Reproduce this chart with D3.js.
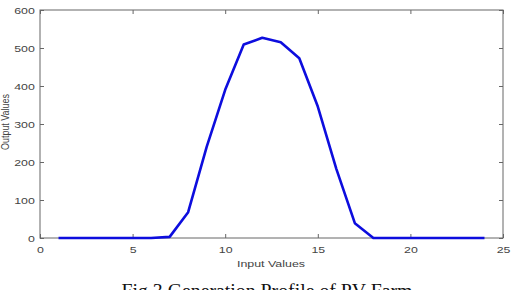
<!DOCTYPE html>
<html>
<head>
<meta charset="utf-8">
<script src="https://cdn.jsdelivr.net/npm/d3@7"></script>
<style>
  body { margin: 0; background: #fff; }
  svg { display: block; }
  .tick text { font-family: "Liberation Sans", Arial, sans-serif; font-size: 9.5px; fill: #444; }
</style>
</head>
<body>
<svg width="516" height="290"></svg>
<script>
// hours and PV output
var hours = [1, 2, 3, 4, 5, 6, 7, 8, 9, 10, 11, 12, 13, 14, 15, 16, 17, 18, 19, 20, 21, 22, 23, 24];
var output = [0, 0, 0, 0, 0, 0, 3, 68, 240, 390, 509, 527, 515, 473, 346, 182, 39, 0, 0, 0, 0, 0, 0, 0];
var xTicks = [0, 5, 10, 15, 20, 25];
var yTicks = [0, 100, 200, 300, 400, 500, 600];

var svg = d3.select("svg");
// note: "top" is taken by window.top, so plot edges get their own names
var plotL = 40, plotR = 503, plotT = 10, plotB = 238;

var x = d3.scaleLinear().domain([0, 25]).range([plotL, plotR]);
var y = d3.scaleLinear().domain([0, 600]).range([plotB, plotT]);

var grey = "#666";
var stretch = 1.3; // the source image is squashed vertically, text looks wide

// inward ticks on all four sides, matlab style
svg.append("g")
    .attr("transform", "translate(0," + plotB + ")")
    .call(d3.axisBottom(x).tickValues(xTicks).tickSize(-4).tickPadding(8))
    .call(function(g) { g.select(".domain").remove(); })
    .selectAll(".tick text").attr("transform", "scale(" + stretch + ",1)");
svg.append("g")
    .attr("transform", "translate(0," + plotT + ")")
    .call(d3.axisTop(x).tickValues(xTicks).tickSize(-4).tickFormat(""))
    .call(function(g) { g.select(".domain").remove(); });
svg.append("g")
    .attr("transform", "translate(" + plotL + ",0)")
    .call(d3.axisLeft(y).tickValues(yTicks).tickSize(-4).tickPadding(4))
    .call(function(g) { g.select(".domain").remove(); })
    .selectAll(".tick text").attr("transform", "scale(" + stretch + ",1)");
svg.append("g")
    .attr("transform", "translate(" + plotR + ",0)")
    .call(d3.axisRight(y).tickValues(yTicks).tickSize(-4).tickFormat(""))
    .call(function(g) { g.select(".domain").remove(); });

svg.selectAll(".tick line").attr("stroke", grey);

svg.append("rect")
    .attr("x", plotL).attr("y", plotT)
    .attr("width", plotR - plotL).attr("height", plotB - plotT)
    .attr("fill", "none").attr("stroke", grey).attr("stroke-width", 1);

var line = d3.line()
    .x(function(d, i) { return x(hours[i]); })
    .y(function(d) { return y(d); });

svg.append("path")
    .datum(output)
    .attr("d", line)
    .attr("fill", "none")
    .attr("stroke", "#0d0dde")
    .attr("stroke-width", 2.6)
    .attr("stroke-linejoin", "round");

svg.append("text")
    .attr("x", 271).attr("y", 267)
    .attr("text-anchor", "middle")
    .attr("textLength", 68).attr("lengthAdjust", "spacingAndGlyphs")
    .style("font-family", "Liberation Sans, Arial, sans-serif")
    .style("font-size", "9.5px").style("fill", "#444")
    .text("Input Values");

svg.append("text")
    .attr("transform", "translate(9,122) rotate(-90)")
    .attr("text-anchor", "middle")
    .attr("textLength", 56).attr("lengthAdjust", "spacingAndGlyphs")
    .style("font-family", "Liberation Sans, Arial, sans-serif")
    .style("font-size", "10.5px").style("fill", "#444")
    .text("Output Values");

svg.append("text")
    .attr("x", 267).attr("y", 297)
    .attr("text-anchor", "middle")
    .attr("textLength", 291).attr("lengthAdjust", "spacingAndGlyphs")
    .style("font-family", "Liberation Serif, Times New Roman, serif")
    .style("font-size", "18px").style("fill", "#111")
    .text("Fig.3 Generation Profile of PV Farm");
</script>
</body>
</html>
